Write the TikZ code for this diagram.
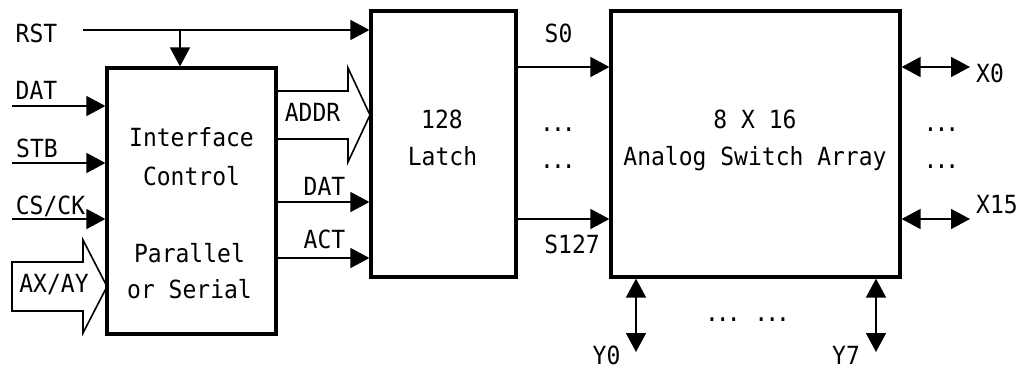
\documentclass[tikz,border=0pt]{standalone}
\usepackage{fontspec}
\setmainfont{DejaVu Sans Mono}[FakeStretch=0.92]
\usetikzlibrary{arrows.meta}
\newcommand\mydots{.\kern-3pt.\kern-3pt.}
\begin{document}
\begin{tikzpicture}[x=1pt,y=-1pt,
  box/.style={draw,line width=3.2pt,inner sep=0pt},
  txt/.style={font=\fontsize{25}{30}\selectfont,inner sep=0pt,anchor=base},
  conn/.style={line width=1.6pt},
  arr/.style={conn,-{Triangle[length=19pt,width=20pt]}},
  darr/.style={conn,{Triangle[length=19pt,width=20pt]}-{Triangle[length=19pt,width=20pt]}},
  fat/.style={line width=1.6pt,line join=miter}]
\useasboundingbox (0,0) rectangle (1022,369);
% boxes
\node[box,minimum width=169pt,minimum height=266pt] (ctrl) at (191.5,201) {};
\node[box,minimum width=145pt,minimum height=266pt] (latch) at (443.5,144) {};
\node[box,minimum width=289pt,minimum height=266pt] (asa) at (755.5,144) {};
% box texts
\node[txt] (t1) at (191.5,146.7) {Interface};
\node[txt] (t2) at (191.5,185) {Control};
\node[txt] (t3) at (189.5,262) {Parallel};
\node[txt] (t4) at (189.5,298) {or Serial};
\node[txt] (l1) at (442,128) {128};
\node[txt] (l2) at (442.5,165) {Latch};
\node[txt] (a1) at (755,128) {8 X 16};
\node[txt] (a2) at (755,165) {Analog Switch Array};
% RST
\coordinate (rstin) at (83,30);
\coordinate (rstbr) at (180,30);
\draw[arr] (rstin) -- (rstin -| latch.west);
\draw[arr] (rstbr) -- (rstbr |- ctrl.north);
% inputs
\coordinate (datin) at (12,106);
\coordinate (stbin) at (12,163);
\coordinate (csin) at (12,219);
\draw[arr] (datin) -- (datin -| ctrl.west);
\draw[arr] (stbin) -- (stbin -| ctrl.west);
\draw[arr] (csin) -- (csin -| ctrl.west);
% AX/AY fat arrow
\draw[fat] (12,262) -- (83,262) -- (83,240) -- (107,286.5) -- (83,333) -- (83,311) -- (12,311) -- cycle;
% ADDR fat arrow
\draw[fat] (276,91) -- (348,91) -- (348,68) -- (370,115) -- (348,162) -- (348,139) -- (276,139);
% DAT / ACT outputs
\coordinate (ydat) at (0,202);
\coordinate (yact) at (0,258);
\draw[arr] (ctrl.east |- ydat) -- (latch.west |- ydat);
\draw[arr] (ctrl.east |- yact) -- (latch.west |- yact);
% S0 / S127
\coordinate (ys0) at (0,67);
\coordinate (ys127) at (0,219);
\draw[arr] (latch.east |- ys0) -- (asa.west |- ys0);
\draw[arr] (latch.east |- ys127) -- (asa.west |- ys127);
% X outputs
\coordinate (x0e) at (970,67);
\coordinate (x15e) at (970,219);
\draw[darr] (x0e -| asa.east) -- (x0e);
\draw[darr] (x15e -| asa.east) -- (x15e);
% Y outputs
\coordinate (y0e) at (636,352);
\coordinate (y7e) at (876,352);
\draw[darr] (y0e |- asa.south) -- (y0e);
\draw[darr] (y7e |- asa.south) -- (y7e);
% labels
\node[txt] (lrst) at (36.5,42.7) {RST};
\node[txt] (ldat) at (36.5,99) {DAT};
\node[txt] (lstb) at (37,157) {STB};
\node[txt] (lcs) at (50.5,214) {CS/CK};
\node[txt] (lax) at (54,292) {AX/AY};
\node[txt] (laddr) at (312.5,121) {ADDR};
\node[txt] (ldato) at (324.5,195) {DAT};
\node[txt] (lact) at (324.5,248) {ACT};
\node[txt] (ls0) at (558.5,43) {S0};
\node[txt] (ls127) at (572,253) {S127};
\node[txt] (lx0) at (990,82) {X0};
\node[txt] (lx15) at (997,213) {X15};
\node[txt] (ly0) at (606.5,364) {Y0};
\node[txt] (ly7) at (846,364) {Y7};
% dots
\node[txt] (d1) at (558,131) {\mydots};
\node[txt] (d2) at (558,168) {\mydots};
\node[txt] (d3) at (941.5,131) {\mydots};
\node[txt] (d4) at (941.5,168) {\mydots};
\node[txt] (d5) at (747.5,321) {\mydots\ \mydots};
\end{tikzpicture}
\end{document}
